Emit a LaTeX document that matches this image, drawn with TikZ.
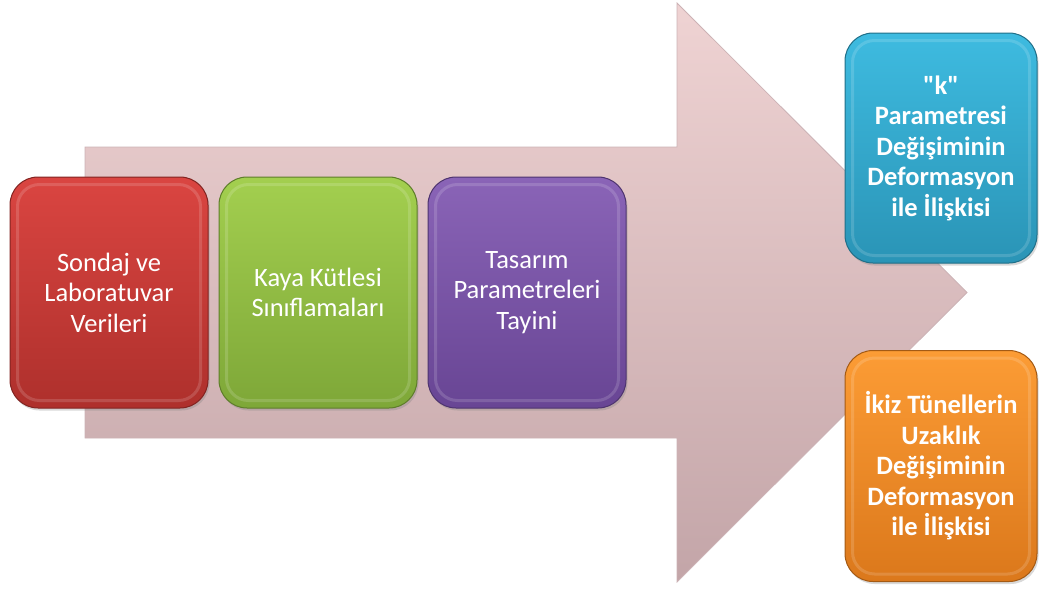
\documentclass[tikz,border=0pt]{standalone}
\usepackage{fontspec}
\setmainfont{Carlito}[Ligatures=TeXOff]
\usetikzlibrary{shadows}

\definecolor{okA}{HTML}{EFD3D3}
\definecolor{okB}{HTML}{C3A5A8}
\definecolor{kirmiziA}{HTML}{DA4541}
\definecolor{kirmiziB}{HTML}{AE302C}
\definecolor{yesilA}{HTML}{A3CF4F}
\definecolor{yesilB}{HTML}{7EA738}
\definecolor{morA}{HTML}{8A64B7}
\definecolor{morB}{HTML}{684594}
\definecolor{maviA}{HTML}{3EBBE0}
\definecolor{maviB}{HTML}{2A94B6}
\definecolor{turuncuA}{HTML}{FC9C35}
\definecolor{turuncuB}{HTML}{DB781B}

\begin{document}
\begin{tikzpicture}[x=1pt,y=-1pt,
        kutu/.style 2 args={rounded corners=28pt, top color=#1, bottom color=#2,
            draw=#2!75!black, line width=1pt, text=white, align=center,
            minimum width=198pt, minimum height=231pt, inner sep=0pt,
            drop shadow={opacity=0.3, shadow xshift=1.5pt, shadow yshift=-2.5pt}},
        ince/.style={font=\fontsize{26.5}{30.5}\selectfont},
        kalin/.style={font=\fontsize{26.5}{30.5}\selectfont\bfseries},
        parlak/.style={draw=white, opacity=0.15, line width=3pt, rounded corners=22pt}]
        \useasboundingbox (0,0) rectangle (1039,592);
        % buyuk ok
        \shade[top color=okA, bottom color=okB, draw=okB!85!white, line width=0.8pt]
            (85,147) -- (677,147) -- (677,3) -- (967,292.5) -- (677,582) -- (677,438) -- (85,438) -- cycle;
        % kutular
        \node[kutu={kirmiziA}{kirmiziB}, ince] (sondaj) at (109,292.5) {Sondaj ve\\Laboratuvar\\Verileri};
        \node[kutu={yesilA}{yesilB}, ince] (kaya) at (318,292.5) {Kaya Kütlesi\\Sınıflamaları};
        \node[kutu={morA}{morB}, ince] (tasarim) at (527,292.5) {Tasarım\\Parametreleri\\Tayini};
        \node[kutu={maviA}{maviB}, kalin, minimum width=192pt, minimum height=230pt] (kpar) at (941,148) {"k"\\Parametresi\\Değişiminin\\Deformasyon\\ile İlişkisi};
        \node[kutu={turuncuA}{turuncuB}, kalin, minimum width=192pt, minimum height=231pt] (ikiz) at (941,466) {İkiz Tünellerin\\Uzaklık\\Değişiminin\\Deformasyon\\ile İlişkisi};
        \foreach \n in {sondaj,kaya,tasarim,kpar,ikiz}
            \draw[parlak] ([shift={(8,8)}]\n.north west) rectangle ([shift={(-8,-8)}]\n.south east);
    \end{tikzpicture}
\end{document}
